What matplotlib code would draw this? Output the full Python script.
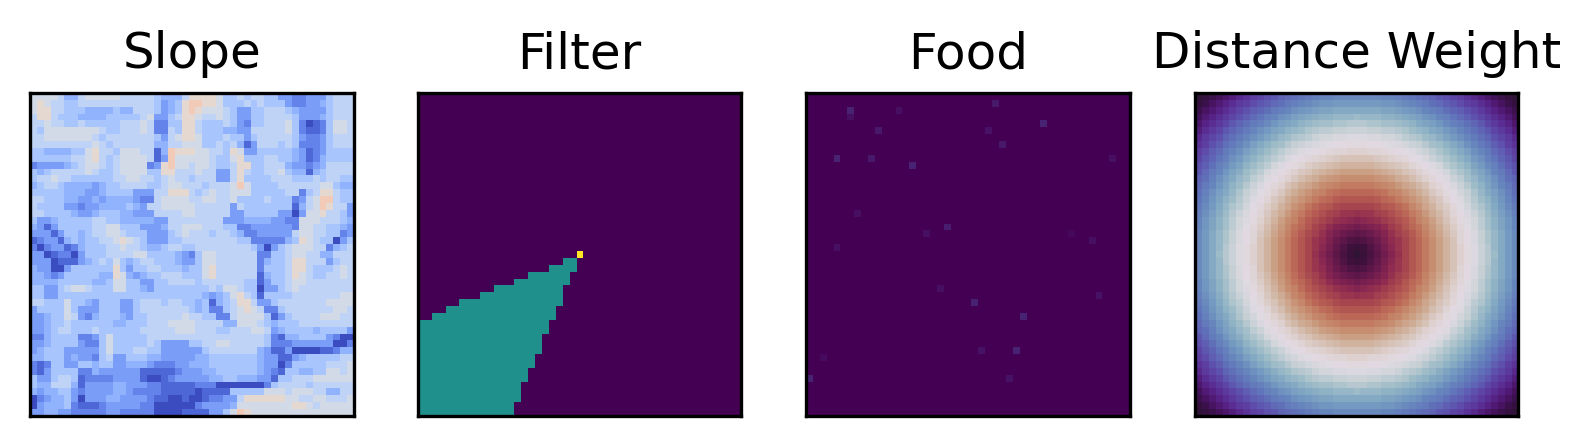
import numpy as np
import matplotlib
matplotlib.use('Agg')
import matplotlib.pyplot as plt

titles = ['Slope', 'Filter', 'Food', 'Distance Weight']
grid_size = 47

# slope levels read per cell, 0 = darkest blue, 9 = salmon
slope_rows = [
    "7777644677 7776666654 4468888755 6566553322 3335666",
    "7876655666 6666666653 4589988755 5656555322 3345666",
    "7886655544 4454466653 4589877765 3355666543 3335666",
    "6886555444 4555556733 5688766765 3355666653 3345666",
    "6676655655 5556667622 5588655565 3255666752 0125776",
    "6577777777 6556667622 6588655544 3366666752 1125776",
    "6677777776 5666666653 6788755565 5356666653 2235666",
    "6666666667 6566666644 6677755656 4136665652 2235666",
    "5544445578 6657776614 9888776658 7335555543 1235555",
    "5555556678 6567777613 9777776557 8555665543 1245555",
    "2333345677 6567777238 9776776556 8855666433 2346666",
    "5456666676 5567777558 8666766336 8655667544 1456666",
    "5667665555 5566776656 7665666336 8555566655 5656655",
    "4566544443 4556666556 7766656667 9755556666 6677544",
    "5555544433 4555533366 8886567667 7755555662 5688655",
    "6655544334 3444432267 7776677667 5555655523 6799655",
    "6555533233 4444543667 7777666663 6555555514 6798663",
    "6655554334 5554433366 6677666663 3555553303 7786653",
    "5334555556 6554444433 6666666633 3444433227 7766654",
    "4313555556 6775553334 6677766655 2233333327 7665543",
    "3331355456 6776555333 5676665665 4223333367 7665523",
    "1233145455 6678765333 5566666666 5522222458 7655035",
    "2023312455 5667665445 6655666666 6653035677 7662456",
    "3301220355 5666677555 5432577666 6662255677 6644666",
    "3330111345 6575456655 5433577666 6662455688 6663566",
    "4330035555 5585355665 5545578666 6662555688 6555676",
    "4432355555 4487434556 6655578666 6661455687 6556676",
    "4444555554 4577553355 6666566666 6551355677 6666666",
    "5533567765 5577554355 5555556577 6550335676 6666666",
    "5533555555 5555555555 5555543457 8651555566 6666677",
    "6655575543 5553356665 6655451456 8863356666 6667777",
    "3555575333 5553356666 6665452256 7876225666 6666776",
    "3345576324 5554355666 6676655226 7777513566 6677766",
    "3345565555 5544555666 7777666644 7776545556 6666666",
    "3345665556 5555556666 6777666556 6677634555 5455553",
    "2245555223 5755555666 6666666666 6666521445 5553200",
    "3345555322 5755555653 3335566776 6666522233 3333002",
    "3455533333 5755566553 3333356666 6664311300 0011244",
    "4455534332 5633555443 3333445555 5554331134 5555566",
    "2125533554 5533444322 2334445555 5554330255 5556667",
    "2135555224 3333331111 1233344555 5554321554 4557767",
    "5335665122 2233331001 2333334455 4443315566 6777777",
    "5446664133 3344333221 1111222000 0000256666 5666666",
    "4344553233 3344322221 1111011115 5555777677 7664466",
    "0234453033 3443333211 0010012233 6888888776 6776667",
    "0344452111 2333332200 0000233334 7777777788 7677777",
    "3344332222 2332222200 0011113357 9877777777 7777777",
]

# first and last teal column for rows 24 to 46 of the filter panel
filter_start = [21, 19, 16, 14, 11, 9, 6, 4, 2, 0, 0, 0, 0, 0, 0, 0, 0, 0, 0, 0, 0, 0, 0]
filter_end = [22, 22, 21, 21, 20, 20, 20, 19, 19, 18, 18, 17, 17, 17, 16, 16, 15, 15, 14, 14, 14, 13, 13]

food_rows = [2, 3, 2, 1, 5, 5, 4, 7, 9, 9, 10, 9, 17, 19, 20, 20, 21, 22, 28, 30, 29, 32, 37, 37, 38, 41, 41]
food_cols = [6, 6, 13, 27, 10, 26, 34, 28, 4, 9, 15, 44, 7, 20, 17, 38, 41, 4, 19, 24, 42, 31, 25, 30, 2, 0, 29]
food_vals = [.10, .04, .04, .07, .07, .05, .10, .07, .10, .07, .10, .04, .04, .08, .04, .02, .04,
             .04, .04, .10, .05, .10, .05, .10, .03, .10, .05]

# one quadrant of the distance panel in percent, centre cell at the top left
dist_quadrant = [
    [0, 3, 6, 9, 12, 15, 18, 22, 25, 28, 31, 34, 37, 40, 43, 46, 49, 52, 55, 58, 61, 65, 68, 71],
    [3, 4, 7, 10, 13, 16, 19, 22, 25, 28, 31, 34, 37, 40, 43, 46, 49, 52, 55, 58, 62, 65, 68, 71],
    [6, 7, 9, 11, 14, 17, 19, 22, 25, 28, 31, 34, 37, 40, 43, 47, 50, 53, 56, 59, 62, 65, 68, 71],
    [9, 10, 11, 13, 15, 18, 21, 23, 26, 29, 32, 35, 38, 41, 44, 47, 50, 53, 56, 59, 62, 65, 68, 71],
    [12, 13, 14, 15, 17, 20, 22, 25, 28, 30, 33, 36, 39, 42, 45, 48, 51, 54, 57, 60, 63, 66, 69, 72],
    [15, 16, 17, 18, 20, 22, 24, 26, 29, 32, 34, 37, 40, 43, 46, 49, 52, 54, 57, 60, 63, 66, 69, 72],
    [18, 19, 19, 21, 22, 24, 26, 28, 31, 33, 36, 39, 41, 44, 47, 50, 53, 55, 58, 61, 64, 67, 70, 73],
    [22, 22, 22, 23, 25, 26, 28, 30, 33, 35, 38, 40, 43, 45, 48, 51, 54, 57, 59, 62, 65, 68, 71, 74],
    [25, 25, 25, 26, 28, 29, 31, 33, 35, 37, 39, 42, 44, 47, 50, 52, 55, 58, 61, 63, 66, 69, 72, 75],
    [28, 28, 28, 29, 30, 32, 33, 35, 37, 39, 41, 44, 46, 49, 51, 54, 56, 59, 62, 65, 67, 70, 73, 76],
    [31, 31, 31, 32, 33, 34, 36, 38, 39, 41, 43, 46, 48, 50, 53, 55, 58, 61, 63, 66, 69, 72, 74, 77],
    [34, 34, 34, 35, 36, 37, 39, 40, 42, 44, 46, 48, 50, 52, 55, 57, 60, 62, 65, 67, 70, 73, 76, 78],
    [37, 37, 37, 38, 39, 40, 41, 43, 44, 46, 48, 50, 52, 54, 57, 59, 61, 64, 66, 69, 72, 74, 77, 80],
    [40, 40, 40, 41, 42, 43, 44, 45, 47, 49, 50, 52, 54, 57, 59, 61, 63, 66, 68, 71, 73, 76, 79, 81],
    [43, 43, 43, 44, 45, 46, 47, 48, 50, 51, 53, 55, 57, 59, 61, 63, 65, 68, 70, 73, 75, 78, 80, 83],
    [46, 46, 47, 47, 48, 49, 50, 51, 52, 54, 55, 57, 59, 61, 63, 65, 67, 70, 72, 74, 77, 79, 82, 84],
    [49, 49, 50, 50, 51, 52, 53, 54, 55, 56, 58, 60, 61, 63, 65, 67, 70, 72, 74, 76, 79, 81, 84, 86],
    [52, 52, 53, 53, 54, 54, 55, 57, 58, 59, 61, 62, 64, 66, 68, 70, 72, 74, 76, 78, 81, 83, 85, 88],
    [55, 55, 56, 56, 57, 57, 58, 59, 61, 62, 63, 65, 66, 68, 70, 72, 74, 76, 78, 80, 83, 85, 87, 90],
    [58, 58, 59, 59, 60, 60, 61, 62, 63, 65, 66, 67, 69, 71, 73, 74, 76, 78, 80, 83, 85, 87, 89, 92],
    [61, 62, 62, 62, 63, 63, 64, 65, 66, 67, 69, 70, 72, 73, 75, 77, 79, 81, 83, 85, 87, 89, 91, 94],
    [65, 65, 65, 65, 66, 66, 67, 68, 69, 70, 72, 73, 74, 76, 78, 79, 81, 83, 85, 87, 89, 91, 93, 96],
    [68, 68, 68, 68, 69, 69, 70, 71, 72, 73, 74, 76, 77, 79, 80, 82, 84, 85, 87, 89, 91, 93, 96, 98],
    [71, 71, 71, 71, 72, 72, 73, 74, 75, 76, 77, 78, 80, 81, 83, 84, 86, 88, 90, 92, 94, 96, 98, 100],
]

# Slope
slope = np.array([[int(c) for c in row if c != ' '] for row in slope_rows]) * 0.066

# Filter
filter_map = np.zeros((grid_size, grid_size))
filter_map[23, 23] = 1
for i, (start, end) in enumerate(zip(filter_start, filter_end)):
    filter_map[24 + i, start:end + 1] = 0.5

# Food
food = np.zeros((grid_size, grid_size))
food[food_rows, food_cols] = food_vals

# Distance weight, the four quadrants are mirror images
q = np.array(dist_quadrant) / 100
distance = np.block([[q[::-1, ::-1], q[::-1, 1:]],
                     [q[1:, ::-1], q[1:, 1:]]])

panels = [slope, filter_map, food, distance]
cmaps = ['coolwarm', 'viridis', 'viridis', 'twilight_shifted_r']
lefts = [30.0, 417.8, 806.2, 1194.6]

fig = plt.figure(figsize=(5.3, 446 / 300), dpi=300)
for title, panel, cmap, left in zip(titles, panels, cmaps, lefts):
    ax = fig.add_axes([left / 1590, (446 - 415.8) / 446, 323.5 / 1590, 322.7 / 446])
    ax.imshow(panel, cmap=cmap, vmin=0, vmax=1, aspect='auto', interpolation='nearest')
    ax.set_xticks([])
    ax.set_yticks([])
    ax.set_title(title)

fig.savefig('out.png', dpi=300)
